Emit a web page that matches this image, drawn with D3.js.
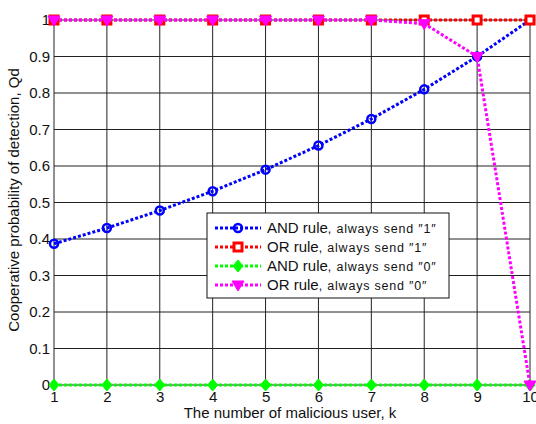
<!DOCTYPE html>
<html>
<head>
<meta charset="utf-8">
<script src="https://cdn.jsdelivr.net/npm/d3@7"></script>
<style>
  body { margin: 0; background: #fff; }
  text { font-family: Arial, "Liberation Sans", sans-serif; fill: #111; }
</style>
</head>
<body>
<svg width="536" height="424"></svg>
<script>
let users = [1, 2, 3, 4, 5, 6, 7, 8, 9, 10]
let andOne = [0.387, 0.430, 0.478, 0.531, 0.590, 0.656, 0.729, 0.810, 0.900, 1.0]
let orOne = [1, 1, 1, 1, 1, 1, 1, 1, 1, 1]
let andZero = [0, 0, 0, 0, 0, 0, 0, 0, 0, 0]
let orZero = [1, 1, 1, 1, 1, 1, 1, 0.99, 0.9, 0]
let yTicks = [0, 0.1, 0.2, 0.3, 0.4, 0.5, 0.6, 0.7, 0.8, 0.9, 1]
let seriesNames = ['AND rule', 'OR rule', 'AND rule', 'OR rule']
let seriesNotes = ['always send ″1″', 'always send ″1″', 'always send ″0″', 'always send ″0″']

let svg = d3.select('svg')
let mLeft = 54, mRight = 530, mTop = 20, mBottom = 385

let x = d3.scaleLinear().domain([1, 10]).range([mLeft, mRight])
let y = d3.scaleLinear().domain([0, 1]).range([mBottom, mTop])

// grid
let grid = svg.append('g')
grid.selectAll('line.v').data(users).enter().append('line')
  .attr('x1', d => x(d)).attr('x2', d => x(d))
  .attr('y1', mTop).attr('y2', mBottom)
  .attr('stroke', '#222').attr('stroke-width', 1)
grid.selectAll('line.h').data(yTicks).enter().append('line')
  .attr('x1', mLeft).attr('x2', mRight)
  .attr('y1', d => y(d)).attr('y2', d => y(d))
  .attr('stroke', '#222').attr('stroke-width', 1)

// axes
let xAxis = svg.append('g').attr('transform', `translate(0,${mBottom})`)
  .call(d3.axisBottom(x).tickValues(users).tickFormat(d3.format('d')).tickSize(0).tickPadding(6))
let yAxis = svg.append('g').attr('transform', `translate(${mLeft},0)`)
  .call(d3.axisLeft(y).tickValues(yTicks).tickFormat(d => d === 0 || d === 1 ? d : d3.format('.1f')(d)).tickSize(0).tickPadding(4))
;[xAxis, yAxis].forEach(a => {
  a.select('.domain').remove()
  a.selectAll('text').attr('font-size', 15).attr('fill', '#111')
    .attr('font-family', 'Arial, "Liberation Sans", sans-serif')
})

svg.append('text').attr('x', 290).attr('y', 418).attr('text-anchor', 'middle')
  .attr('font-size', 15).text('The number of malicious user, k')
svg.append('text').attr('transform', 'translate(19,200) rotate(-90)')
  .attr('text-anchor', 'middle').attr('font-size', 15)
  .text('Cooperative probability of detection, Qd')

let series = [
  { vals: andOne, color: '#0000ff', marker: 'circle' },
  { vals: orOne, color: '#ff0000', marker: 'square' },
  { vals: andZero, color: '#00ff00', marker: 'diamond' },
  { vals: orZero, color: '#ff00ff', marker: 'triangle' }
]

let line = d3.line().x((d, i) => x(users[i])).y(d => y(d))

function drawMarker(g, type, color) {
  if (type === 'circle') {
    g.append('circle').attr('r', 4).attr('fill', 'none')
      .attr('stroke', color).attr('stroke-width', 2.5)
  } else if (type === 'square') {
    g.append('rect').attr('x', -4).attr('y', -4).attr('width', 8).attr('height', 8)
      .attr('fill', '#fff').attr('stroke', color).attr('stroke-width', 3)
  } else if (type === 'diamond') {
    g.append('path').attr('d', 'M0,-6L5,0L0,6L-5,0Z')
      .attr('fill', color).attr('stroke', color).attr('stroke-width', 1)
  } else {
    g.append('path').attr('d', 'M-6,-4L6,-4L0,6Z')
      .attr('fill', color).attr('stroke', color).attr('stroke-width', 1)
  }
}

series.forEach(s => {
  svg.append('path').datum(s.vals).attr('d', line)
    .attr('fill', 'none').attr('stroke', s.color)
    .attr('stroke-width', 3).attr('stroke-dasharray', '3,2')
  svg.selectAll(null).data(s.vals).enter().append('g')
    .attr('transform', (d, i) => `translate(${x(users[i])},${y(d)})`)
    .each(function () { drawMarker(d3.select(this), s.marker, s.color) })
})

// legend
let lg = svg.append('g').attr('transform', 'translate(207,213)')
lg.append('rect').attr('width', 242).attr('height', 85)
  .attr('fill', '#fff').attr('stroke', '#111').attr('stroke-width', 1)
series.forEach((s, i) => {
  let row = lg.append('g').attr('transform', `translate(0,${15 + i * 19})`)
  row.append('line').attr('x1', 8).attr('x2', 54).attr('y1', 0).attr('y2', 0)
    .attr('stroke', s.color).attr('stroke-width', 3).attr('stroke-dasharray', '3,2')
  let m = row.append('g').attr('transform', 'translate(31,0)')
  drawMarker(m, s.marker, s.color)
  let t = row.append('text').attr('x', 60).attr('y', 5).attr('font-size', 15)
  t.append('tspan').text(seriesNames[i])
  t.append('tspan').attr('font-size', 12.5).attr('letter-spacing', 0.8).text(', ' + seriesNotes[i])
})
</script>
</body>
</html>
